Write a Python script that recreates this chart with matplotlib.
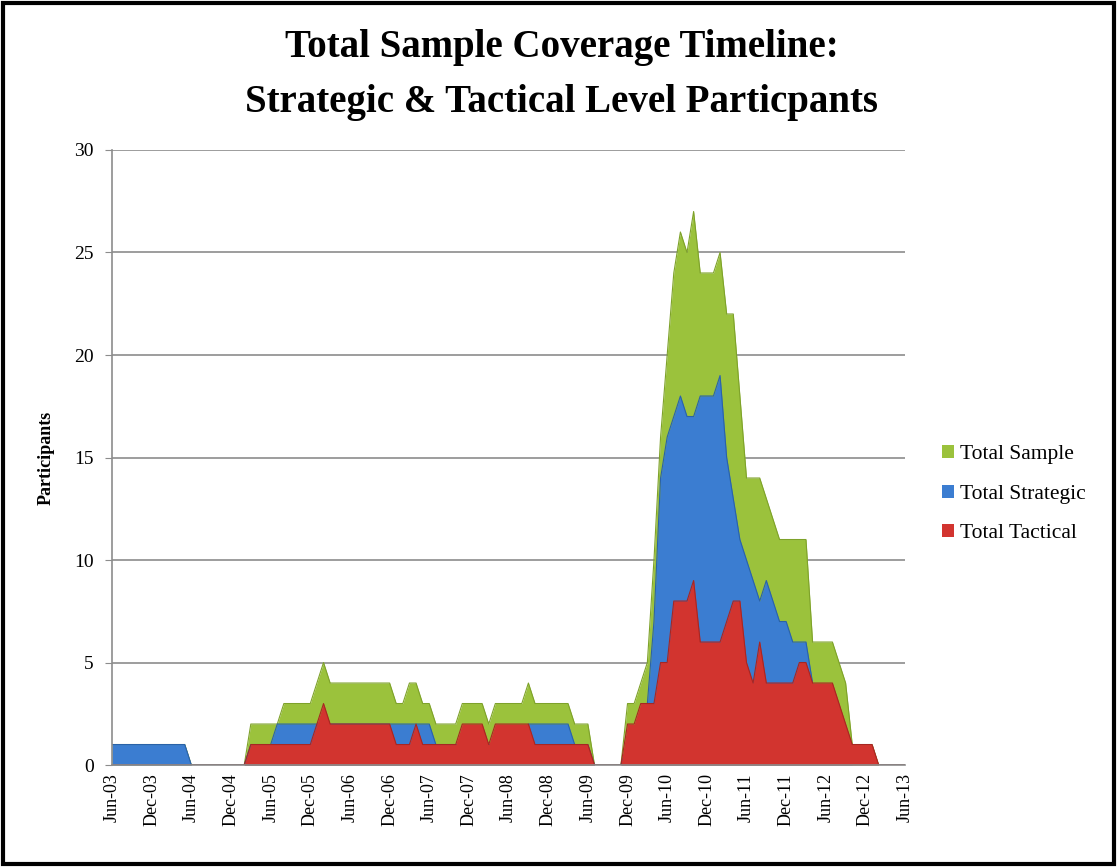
import numpy as np
import pandas as pd
import matplotlib
matplotlib.use('Agg')
import matplotlib.pyplot as plt
from matplotlib.patches import Rectangle

plt.rcParams['font.family'] = ['Liberation Serif', 'DejaVu Serif']

# monthly values, Jun-03 .. Jun-13 (121 months)
months = pd.date_range('2003-06-01', periods=121, freq='MS')

total_sample = [
    1, 1, 1, 1, 1, 1, 1, 1, 1, 1, 1, 1,      # Jun-03
    0, 0, 0, 0, 0, 0, 0, 0, 0, 2, 2, 2,      # Jun-04
    2, 2, 3, 3, 3, 3, 3, 4, 5, 4, 4, 4,      # Jun-05
    4, 4, 4, 4, 4, 4, 4, 3, 3, 4, 4, 3,      # Jun-06
    3, 2, 2, 2, 2, 3, 3, 3, 3, 2, 3, 3,      # Jun-07
    3, 3, 3, 4, 3, 3, 3, 3, 3, 3, 2, 2,      # Jun-08
    2, 0, 0, 0, 0, 0, 3, 3, 4, 5, 10, 16,    # Jun-09
    20, 24, 26, 25, 27, 24, 24, 24, 25, 22, 22, 18,  # Jun-10
    14, 14, 14, 13, 12, 11, 11, 11, 11, 11, 6, 6,    # Jun-11
    6, 6, 5, 4, 1, 1, 1, 1, 0, 0, 0, 0,      # Jun-12
    0,                                       # Jun-13
]

total_strategic = [
    1, 1, 1, 1, 1, 1, 1, 1, 1, 1, 1, 1,
    0, 0, 0, 0, 0, 0, 0, 0, 0, 1, 1, 1,
    1, 2, 2, 2, 2, 2, 2, 2, 2, 2, 2, 2,
    2, 2, 2, 2, 2, 2, 2, 2, 2, 2, 2, 2,
    2, 1, 1, 1, 1, 1, 1, 1, 1, 1, 1, 1,
    1, 1, 1, 2, 2, 2, 2, 2, 2, 2, 1, 1,
    1, 0, 0, 0, 0, 0, 1, 1, 2, 3, 7, 14,
    16, 17, 18, 17, 17, 18, 18, 18, 19, 15, 13, 11,
    10, 9, 8, 9, 8, 7, 7, 6, 6, 6, 4, 2,
    2, 2, 2, 1, 0, 0, 0, 0, 0, 0, 0, 0,
    0,
]

total_tactical = [
    0, 0, 0, 0, 0, 0, 0, 0, 0, 0, 0, 0,
    0, 0, 0, 0, 0, 0, 0, 0, 0, 1, 1, 1,
    1, 1, 1, 1, 1, 1, 1, 2, 3, 2, 2, 2,
    2, 2, 2, 2, 2, 2, 2, 1, 1, 1, 2, 1,
    1, 1, 1, 1, 1, 2, 2, 2, 2, 1, 2, 2,
    2, 2, 2, 2, 1, 1, 1, 1, 1, 1, 1, 1,
    1, 0, 0, 0, 0, 0, 2, 2, 3, 3, 3, 5,
    5, 8, 8, 8, 9, 6, 6, 6, 6, 7, 8, 8,
    5, 4, 6, 4, 4, 4, 4, 4, 5, 5, 4, 4,
    4, 4, 3, 2, 1, 1, 1, 1, 0, 0, 0, 0,
    0,
]

series = [
    ('Total Sample', total_sample, '#9bc23c', '#7ea22a'),
    ('Total Strategic', total_strategic, '#3b7dd1', '#2a62a8'),
    ('Total Tactical', total_tactical, '#d2342f', '#a82622'),
]

fig = plt.figure(figsize=(11.17, 8.67), dpi=100)
ax = fig.add_axes([0.1003, 0.1176, 0.7100, 0.7094])

x = np.arange(len(months))
for name, vals, col, edge in series:
    ax.fill_between(x, 0, vals, color=col, label=name, linewidth=0, zorder=2)
    ax.plot(x, vals, color=edge, linewidth=0.8, zorder=2)

ax.set_xlim(0, len(months) - 1)
ax.set_ylim(0, 30)
ax.set_yticks(range(0, 31, 5))
ax.yaxis.grid(True, color='#8c8c8c', linewidth=1.2, zorder=0)
ax.set_axisbelow(True)

tick_pos = x[::6]
tick_labels = [d.strftime('%b-%y') for d in months[::6]]
ax.set_xticks(tick_pos)
ax.set_xticklabels(tick_labels, rotation=90, fontsize=13)
ax.tick_params(axis='y', labelsize=14, length=5, color='#8c8c8c', pad=8)
ax.tick_params(axis='x', length=0, pad=6)

for s in ['top', 'right']:
    ax.spines[s].set_visible(False)
for s in ['left', 'bottom']:
    ax.spines[s].set_color('#8c8c8c')
    ax.spines[s].set_linewidth(1.2)

ax.set_ylabel('Participants', fontsize=13, fontweight='bold', labelpad=14)

fig.text(0.503, 0.945, 'Total Sample Coverage Timeline:', ha='center', va='center',
         fontsize=28, fontweight='bold')
fig.text(0.503, 0.882, 'Strategic & Tactical Level Particpants', ha='center', va='center',
         fontsize=28, fontweight='bold')

handles, labels = ax.get_legend_handles_labels()
fig.legend(handles, labels, loc='center left', bbox_to_anchor=(0.826, 0.43),
           frameon=False, fontsize=15.5, handlelength=0.55, handleheight=0.55,
           handletextpad=0.3, labelspacing=0.95)

fig.add_artist(Rectangle((0.003, 0.003), 0.994, 0.994, transform=fig.transFigure,
                         fill=False, edgecolor='black', linewidth=3))

fig.savefig('out.png', dpi=100)
